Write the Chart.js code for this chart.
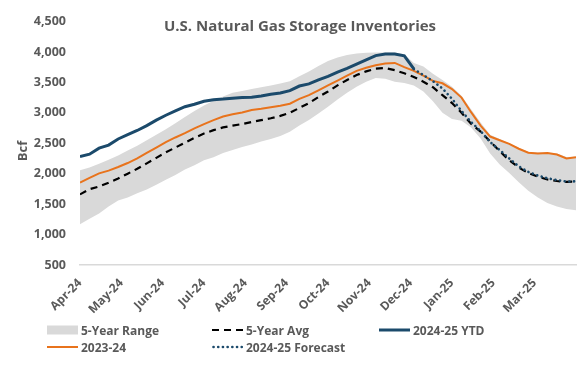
<!DOCTYPE html>
<html>
<head>
<meta charset="utf-8">
<script src="https://cdn.jsdelivr.net/npm/chart.js@4.4.1/dist/chart.umd.min.js"></script>
<style>
  html, body { margin:0; padding:0; background:#fff; }
  #wrap { position:relative; width:588px; height:365px; }
  #legend { position:absolute; left:0; top:0; width:588px; height:365px; pointer-events:none;
            font:bold 12px "Open Sans", sans-serif; color:#595959; }
  .item { position:absolute; display:flex; align-items:center; height:16px; white-space:nowrap; }
  .item canvas { margin-right:3px; }
</style>
</head>
<body>
<div id="wrap">
  <canvas id="chart" width="588" height="365"></canvas>
  <div id="legend"></div>
</div>
<script>
// etiquetas y datos (semanal, abril 2024 - marzo 2025, Bcf)
const chartTitle = 'U.S. Natural Gas Storage Inventories';
const yTitle = 'Bcf';
const monthLabels = ['Apr-24','May-24','Jun-24','Jul-24','Aug-24','Sep-24','Oct-24','Nov-24','Dec-24','Jan-25','Feb-25','Mar-25'];
const yTicks = [500,1000,1500,2000,2500,3000,3500,4000,4500];

const rangeMax = [
  2055,2100,2165,2230,2300,2380,2460,2550,2640,2730,
  2830,2930,3030,3120,3200,3270,3330,3360,3390,3420,
  3450,3480,3520,3600,3680,3770,3850,3910,3950,3975,
  3985,3990,3990,3990,3960,3820,3760,3640,3540,3430,
  3280,3060,2840,2640,2570,2500,2420,2360,2350,2350,
  2330,2275,2280
];
const rangeMin = [
  1170,1260,1345,1460,1560,1610,1680,1740,1820,1900,
  1980,2070,2140,2220,2270,2340,2390,2440,2480,2530,
  2570,2620,2690,2790,2880,2990,3100,3220,3330,3430,
  3510,3570,3560,3510,3490,3450,3350,3190,3000,2900,
  2870,2760,2580,2330,2150,2010,1860,1720,1610,1520,
  1460,1420,1400
];
const avg5yr = [
  1660,1745,1790,1850,1920,2000,2080,2170,2260,2350,
  2430,2510,2590,2660,2715,2760,2790,2815,2850,2880,
  2910,2950,3000,3080,3160,3260,3350,3450,3540,3620,
  3680,3725,3735,3700,3650,3590,3510,3420,3290,3160,
  3000,2820,2690,2530,2370,2220,2100,2010,1950,1905,
  1880,1865,1870
];
const s2023_24 = [
  1855,1930,2005,2050,2110,2175,2250,2340,2430,2520,
  2595,2665,2745,2815,2880,2940,2975,3005,3045,3065,
  3090,3115,3150,3230,3290,3370,3450,3530,3610,3690,
  3740,3780,3810,3820,3750,3690,3610,3525,3485,3390,
  3250,3010,2790,2610,2550,2490,2410,2345,2330,2340,
  2315,2250,2270
];
const ytd2024_25 = [
  2280,2320,2420,2470,2570,2640,2710,2790,2880,2960,
  3030,3100,3140,3190,3215,3225,3240,3250,3255,3275,
  3305,3325,3365,3440,3475,3540,3600,3670,3730,3800,
  3870,3940,3965,3965,3935,3720
];
const forecastStartWeek = 35;
const forecast2024_25 = [
  3720,3620,3520,3400,3230,3030,2850,2700,2520,2390,
  2250,2120,2030,1970,1925,1895,1870,1875
];
const totalWeeks = 52;

const txt = '#595959';
const pts = (arr, start=0) => arr.map((v,i)=>({x:start+i, y:v}));

// título y "Bcf" dibujados encima del área (se solapan con el gráfico)
const textPlugin = {
  id:'texts',
  afterDraw(chart){
    const c = chart.ctx;
    c.save();
    c.fillStyle = txt;
    c.textAlign = 'center'; c.textBaseline = 'middle';
    c.font = 'bold 15px "Open Sans"';
    c.fillText(chartTitle, 300, 27);
    c.translate(23, 151); c.rotate(-Math.PI/2);
    c.font = 'bold 13px "Open Sans"';
    c.fillText(yTitle, 0, 0);
    c.restore();
  }
};

const chart = new Chart(document.getElementById('chart'), {
  type:'line',
  data:{
    datasets:[
      { label:'2024-25 YTD', data:pts(ytd2024_25), borderColor:'#1b4a6b', borderWidth:3, order:0 },
      { label:'2024-25 Forecast', data:pts(forecast2024_25, forecastStartWeek), borderColor:'#1b4a6b',
        borderWidth:2.6, borderDash:[0.1,4.6], borderCapStyle:'round', order:1 },
      { label:'2023-24', data:pts(s2023_24), borderColor:'#e8731c', borderWidth:2, order:2 },
      { label:'5-Year Avg', data:pts(avg5yr), borderColor:'#000', borderWidth:2.2, borderDash:[7,5], order:3 },
      { label:'', data:pts(rangeMin), borderWidth:0, borderColor:'rgba(0,0,0,0)', order:5 },
      { label:'5-Year Range', data:pts(rangeMax), borderWidth:0, borderColor:'rgba(0,0,0,0)',
        backgroundColor:'#d9d9d9', fill:'-1', order:4 }
    ]
  },
  options:{
    responsive:false,
    devicePixelRatio:1,
    animation:false,
    elements:{ point:{radius:0}, line:{tension:0} },
    layout:{ padding:{ left:0, right:12, top:20, bottom:0 } },
    scales:{
      x:{
        type:'linear', min:0, max:totalWeeks,
        grid:{ display:false, drawTicks:false },
        border:{ display:true, color:'#d9d9d9', width:1.5 },
        afterBuildTicks:(axis)=>{ axis.ticks = monthLabels.map((l,i)=>({value:i*totalWeeks/12})); },
        afterFit:(axis)=>{ axis.height = 100; },
        ticks:{
          autoSkip:false, minRotation:45, maxRotation:45, padding:11,
          color:txt, font:{ family:'Open Sans', weight:'bold', size:12 },
          callback:(v,i)=>monthLabels[i]
        }
      },
      y:{
        min:500, max:4500,
        grid:{ display:false, drawTicks:false },
        border:{ display:false },
        afterBuildTicks:(axis)=>{ axis.ticks = yTicks.map(v=>({value:v})); },
        afterFit:(axis)=>{ axis.width = 80; },
        ticks:{
          padding:14, color:txt, font:{ family:'Open Sans', weight:'bold', size:12.5 },
          callback:(v)=>v.toLocaleString('en-US')
        }
      }
    },
    plugins:{ legend:{display:false}, tooltip:{enabled:false} }
  },
  plugins:[textPlugin]
});

// leyenda HTML en dos filas, tres columnas
const legendSlots = {
  '5-Year Range':[47,322], '5-Year Avg':[212,322], '2024-25 YTD':[379,322],
  '2023-24':[47,339], '2024-25 Forecast':[212,339]
};
const legendEl = document.getElementById('legend');
chart.data.datasets.forEach(ds=>{
  const slot = legendSlots[ds.label];
  if(!slot) return;
  const item = document.createElement('div');
  item.className = 'item';
  item.style.left = slot[0]+'px';
  item.style.top = slot[1]+'px';
  const sw = document.createElement('canvas');
  sw.width = 31; sw.height = 16;
  const g = sw.getContext('2d');
  if(ds.fill){
    g.fillStyle = ds.backgroundColor;
    g.fillRect(0,3.5,31,9);
  } else {
    g.strokeStyle = ds.borderColor;
    g.lineWidth = ds.borderWidth;
    g.lineCap = ds.borderCapStyle || 'butt';
    g.setLineDash(ds.borderDash || []);
    g.beginPath(); g.moveTo(ds.borderCapStyle==='round'?1.5:0,8); g.lineTo(31,8); g.stroke();
  }
  item.appendChild(sw);
  const t = document.createElement('span');
  t.textContent = ds.label;
  item.appendChild(t);
  legendEl.appendChild(item);
});
</script>
</body>
</html>
